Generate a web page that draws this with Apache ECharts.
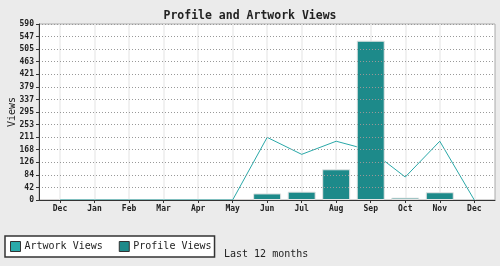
<!DOCTYPE html>
<html>
<head>
<meta charset="utf-8">
<script src="https://cdn.jsdelivr.net/npm/echarts@6/dist/echarts.min.js"></script>
<style>html,body{margin:0;padding:0;background:#ebebeb;}#c{width:500px;height:266px;}</style>
</head>
<body>
<div id="c"></div>
<script>
var months = ['Dec','Jan','Feb','Mar','Apr','May','Jun','Jul','Aug','Sep','Oct','Nov','Dec'];
var artworkViews = [0,0,0,0,0,0,210,153,197,166,77,197,0];
var profileViews = [0,0,0,0,0,0,22,28,103,534,8,26,0];
var yTicks = [0,42,84,126,168,211,253,295,337,379,421,463,505,547,590];
var yMax = 590;
var FONT = 'DejaVu Sans Mono';

var chart = echarts.init(document.getElementById('c'), null, {renderer:'canvas'});
var step = yMax / (yTicks.length - 1);
chart.setOption({
  backgroundColor: '#ebebeb',
  animation: false,
  title: {
    text: 'Profile and Artwork Views', left: 'center', top: 5,
    textStyle: {fontFamily: FONT, fontSize: 11.5, fontWeight: 'bold', color: '#222'}
  },
  legend: {
    left: 5, top: 236, orient: 'horizontal',
    backgroundColor: '#fff', borderColor: '#333', borderWidth: 1.5,
    padding: [5, 3, 5, 5], itemGap: 16, itemWidth: 10, itemHeight: 10,
    icon: 'rect',
    textStyle: {fontFamily: FONT, fontSize: 10, color: '#222', padding: [0,0,0,-1]},
    data: [
      {name: 'Artwork Views', itemStyle: {color: '#2aaaaa', borderColor: '#333', borderWidth: 1}},
      {name: 'Profile Views', itemStyle: {color: '#1d8a8a', borderColor: '#333', borderWidth: 1}}
    ]
  },
  graphic: [{
    type: 'text', left: 224, top: 249,
    style: {text: 'Last 12 months', font: '10px "DejaVu Sans Mono"', fill: '#222'}
  }],
  grid: [
    {left: 39, right: 5, top: 24, bottom: 66, show: true, backgroundColor: '#fff', borderColor: '#aaa', borderWidth: 1,
     containLabel: false, outerBoundsMode: 'none'},
    {left: 60, right: 25.7, top: 24, bottom: 66, containLabel: false, outerBoundsMode: 'none'}
  ],
  xAxis: [
    {gridIndex: 0, type: 'value', min: 0, max: 1, z: 5,
     axisLine: {show: true, onZero: false, lineStyle: {color: '#333', width: 1}},
     axisTick: {show: false}, axisLabel: {show: false}, splitLine: {show: false}},
    {gridIndex: 1, type: 'category', data: months, boundaryGap: false, z: 1,
     axisLine: {show: false},
     axisTick: {show: true, length: 3, alignWithLabel: true, lineStyle: {color: '#333'}},
     axisLabel: {fontFamily: FONT, fontSize: 8, fontWeight: 'bold', color: '#222', margin: 5},
     splitLine: {show: true, lineStyle: {color: '#ececec', width: 1.5, type: 'solid'}}}
  ],
  yAxis: [
    {gridIndex: 0, type: 'value', min: 0, max: yMax, interval: step, z: 5,
     name: 'Views', nameLocation: 'middle', nameGap: 22, nameRotate: 90, nameMoveOverlap: false,
     nameTextStyle: {fontFamily: FONT, fontSize: 10, color: '#222'},
     axisLine: {show: true, lineStyle: {color: '#333', width: 1}},
     axisTick: {show: true, length: 3, lineStyle: {color: '#333'}},
     axisLabel: {fontFamily: FONT, fontSize: 8, fontWeight: 'bold', color: '#222', margin: 5,
       formatter: function (v) { var i = Math.round(v / step); return yTicks[i] !== undefined ? String(yTicks[i]) : ''; }},
     splitLine: {show: true, lineStyle: {color: '#999', type: [1, 2], width: 1}}},
    {gridIndex: 1, type: 'value', min: 0, max: yMax, interval: step, show: false, splitLine: {show: false}}
  ],
  series: [
    {name: 'Artwork Views', type: 'line', xAxisIndex: 1, yAxisIndex: 1, data: artworkViews,
     showSymbol: false, symbol: 'none', z: 2,
     lineStyle: {color: '#2aa8a8', width: 1}, itemStyle: {color: '#2aaaaa'}},
    {name: 'Profile Views', type: 'bar', xAxisIndex: 1, yAxisIndex: 1,
     data: profileViews.map(function (v) { return v === 0 ? null : v; }),
     barWidth: 28, z: 3,
     itemStyle: {color: '#1d8a8a', borderColor: '#e4e4e4', borderWidth: 1}}
  ]
});
</script>
</body>
</html>
